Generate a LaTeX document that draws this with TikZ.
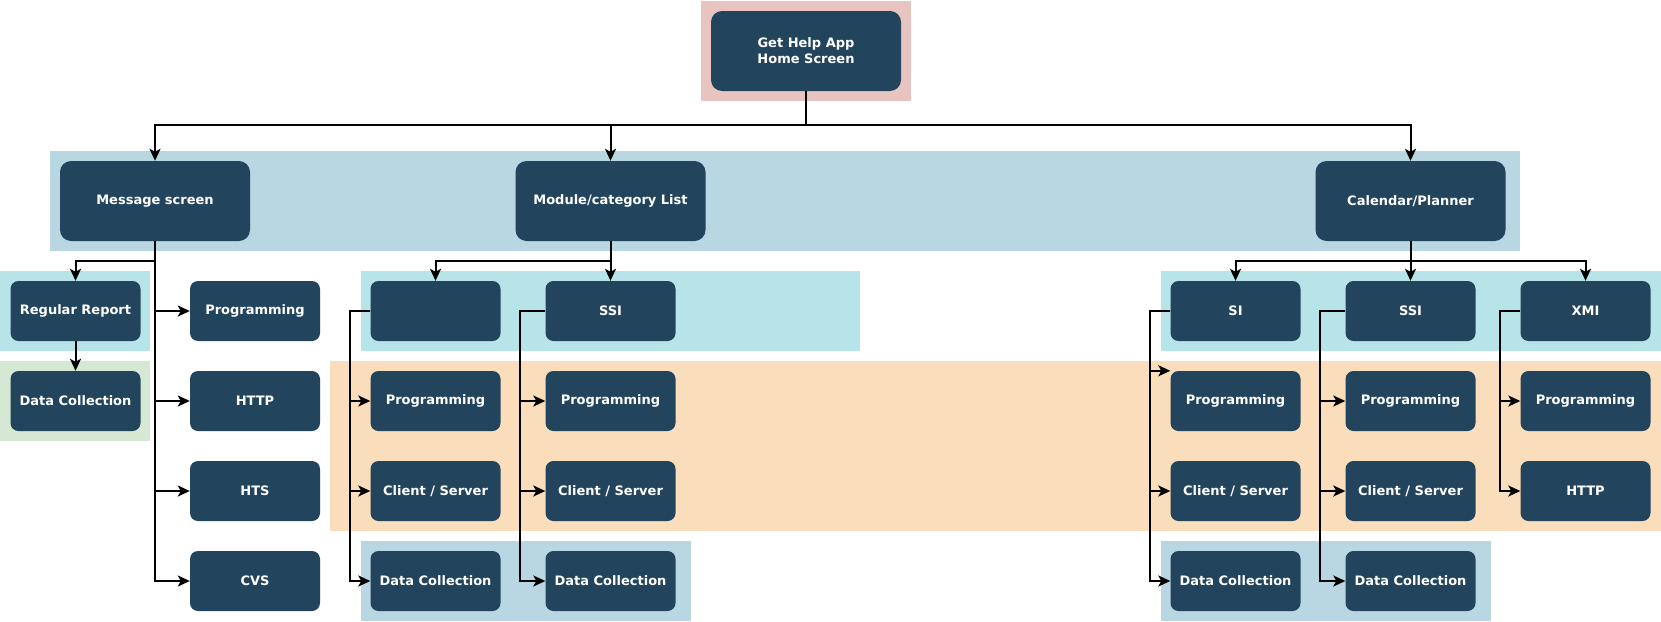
\documentclass[tikz,border=0pt]{standalone}
\usepackage{fontspec}
\setmainfont{DejaVu Sans}
\usetikzlibrary{arrows.meta,calc}
\definecolor{nodefill}{HTML}{23445D}
\definecolor{bpink}{HTML}{E8C4C0}
\definecolor{bblue}{HTML}{B9D6E3}
\definecolor{bcyan}{HTML}{B7E4E9}
\definecolor{bgreen}{HTML}{D5E8D4}
\definecolor{borange}{HTML}{FADDBA}
\tikzset{
  base/.style={fill=nodefill, text=white, font=\bfseries\fontsize{13}{16}\selectfont, align=center, inner sep=0pt},
  big/.style={base, minimum width=190pt, minimum height=80pt, rounded corners=11pt},
  small/.style={base, minimum width=130pt, minimum height=60pt, rounded corners=8pt},
  arr/.style={draw=black, line width=2pt, -{Stealth[length=12pt,width=11pt,inset=3pt]}},
  band/.style={draw=none}
}
\begin{document}
\begin{tikzpicture}[x=1pt,y=-1pt]
\useasboundingbox (0,0) rectangle (1661,621);
% bands
\fill[bpink] (701,1) rectangle (911,101);
\fill[bblue] (50,151) rectangle (1520,251);
\fill[bcyan] (0,271) rectangle (150,351);
\fill[bgreen] (0,361) rectangle (150,441);
\fill[bcyan] (361,271) rectangle (860,351);
\fill[bcyan] (1161,271) rectangle (1661,351);
\fill[borange] (330,361) rectangle (1661,531);
\fill[bblue] (361,541) rectangle (691,621);
\fill[bblue] (1161,541) rectangle (1491,621);
% nodes
\node[big] (top) at (806,51) {Get Help App\\Home Screen};
\node[big] (msg) at (155,201) {Message screen};
\node[big] (mod) at (610.5,201) {Module/category List};
\node[big] (cal) at (1410.5,201) {Calendar/Planner};
\node[small] (rr) at (75.5,311) {Regular Report};
\node[small] (dcl) at (75.5,401) {Data Collection};
\node[small] (mp) at (255,311) {Programming};
\node[small] (mh) at (255,401) {HTTP};
\node[small] (mhts) at (255,491) {HTS};
\node[small] (mcvs) at (255,581) {CVS};
\node[small] (em) at (435.5,311) {};
\node[small] (emp) at (435.5,401) {Programming};
\node[small] (emc) at (435.5,491) {Client / Server};
\node[small] (emd) at (435.5,581) {Data Collection};
\node[small] (ms) at (610.5,311) {SSI};
\node[small] (msp) at (610.5,401) {Programming};
\node[small] (msc) at (610.5,491) {Client / Server};
\node[small] (msd) at (610.5,581) {Data Collection};
\node[small] (si) at (1235.5,311) {SI};
\node[small] (sip) at (1235.5,401) {Programming};
\node[small] (sic) at (1235.5,491) {Client / Server};
\node[small] (sid) at (1235.5,581) {Data Collection};
\node[small] (cs) at (1410.5,311) {SSI};
\node[small] (csp) at (1410.5,401) {Programming};
\node[small] (csc) at (1410.5,491) {Client / Server};
\node[small] (csd) at (1410.5,581) {Data Collection};
\node[small] (xm) at (1585.5,311) {XMI};
\node[small] (xmp) at (1585.5,401) {Programming};
\node[small] (xmh) at (1585.5,491) {HTTP};
% connectors
\draw[arr] (top.south) -- ++(0,34) -| (msg.north);
\draw[arr] (top.south) -- ++(0,34) -| (mod.north);
\draw[arr] (top.south) -- ++(0,34) -| (cal.north);
\draw[arr] (msg.south) -- ++(0,20) -| (rr.north);
\draw[arr] (rr.south) -- (dcl.north);
\draw[arr] (msg.south) |- (mp.west);
\draw[arr] (msg.south) |- (mh.west);
\draw[arr] (msg.south) |- (mhts.west);
\draw[arr] (msg.south) |- (mcvs.west);
\draw[arr] (mod.south) -- ++(0,20) -| (em.north);
\draw[arr] (mod.south) -- (ms.north);
\draw[arr] (em.west) -- ++(-20,0) |- (emp.west);
\draw[arr] (em.west) -- ++(-20,0) |- (emc.west);
\draw[arr] (em.west) -- ++(-20,0) |- (emd.west);
\draw[arr] (ms.west) -- ++(-25,0) |- (msp.west);
\draw[arr] (ms.west) -- ++(-25,0) |- (msc.west);
\draw[arr] (ms.west) -- ++(-25,0) |- (msd.west);
\draw[arr] (cal.south) -- ++(0,20) -| (si.north);
\draw[arr] (cal.south) -- (cs.north);
\draw[arr] (cal.south) -- ++(0,20) -| (xm.north);
\draw[arr] (si.west) -- ++(-20,0) |- (sip.north west);
\draw[arr] (si.west) -- ++(-20,0) |- (sic.west);
\draw[arr] (si.west) -- ++(-20,0) |- (sid.west);
\draw[arr] (cs.west) -- ++(-25,0) |- (csp.west);
\draw[arr] (cs.west) -- ++(-25,0) |- (csc.west);
\draw[arr] (cs.west) -- ++(-25,0) |- (csd.west);
\draw[arr] (xm.west) -- ++(-20,0) |- (xmp.west);
\draw[arr] (xm.west) -- ++(-20,0) |- (xmh.west);
\end{tikzpicture}
\end{document}
